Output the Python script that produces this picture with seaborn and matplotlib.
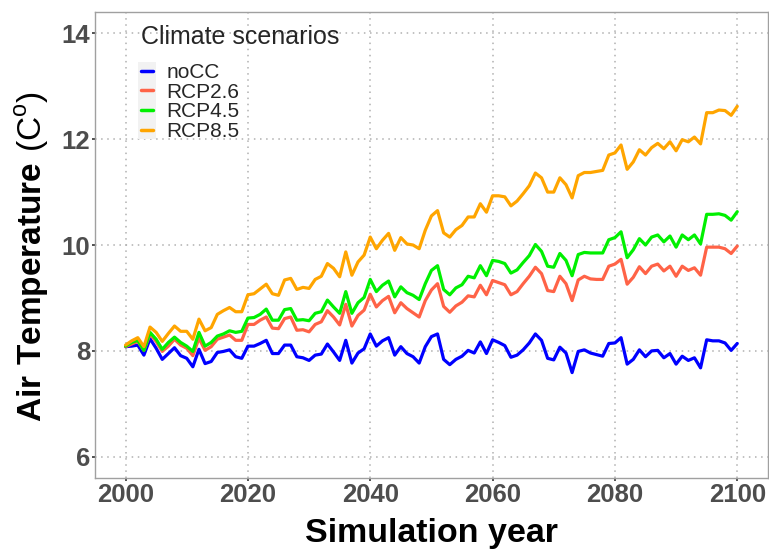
import numpy as np
import pandas as pd
import matplotlib
matplotlib.use("Agg")
import matplotlib.pyplot as plt
from matplotlib.patches import Rectangle
import seaborn as sns

years = list(range(2000, 2101))

nocc = [
    8.08, 8.09, 8.11, 7.92, 8.23, 8.05, 7.84, 7.95, 8.06, 7.91,
    7.86, 7.70, 8.03, 7.76, 7.80, 7.97, 7.99, 8.02, 7.89, 7.86,
    8.09, 8.09, 8.14, 8.20, 7.95, 7.95, 8.11, 8.11, 7.89, 7.87,
    7.82, 7.92, 7.94, 8.13, 7.98, 7.82, 8.20, 7.77, 7.96, 8.04,
    8.32, 8.09, 8.19, 8.25, 7.92, 8.08, 7.95, 7.89, 7.77, 8.08,
    8.27, 8.32, 7.84, 7.74, 7.84, 7.90, 8.01, 7.96, 8.17, 7.95,
    8.21, 8.16, 8.10, 7.88, 7.92, 8.02, 8.15, 8.32, 8.20, 7.86,
    7.83, 8.07, 7.96, 7.59, 7.99, 8.02, 7.96, 7.93, 7.90, 8.14,
    8.15, 8.25, 7.75, 7.84, 8.02, 7.89, 8.00, 8.01, 7.87, 7.95,
    7.75, 7.90, 7.82, 7.87, 7.68, 8.21, 8.19, 8.19, 8.15, 8.01,
    8.14,
]

rcp26 = [
    8.08, 8.13, 8.18, 8.01, 8.32, 8.18, 7.99, 8.09, 8.22, 8.11,
    8.05, 7.91, 8.24, 8.01, 8.08, 8.22, 8.26, 8.30, 8.20, 8.20,
    8.50, 8.50, 8.58, 8.64, 8.43, 8.42, 8.61, 8.64, 8.39, 8.40,
    8.36, 8.50, 8.55, 8.76, 8.64, 8.49, 8.88, 8.47, 8.67, 8.77,
    9.07, 8.83, 8.95, 9.03, 8.72, 8.91, 8.80, 8.72, 8.64, 8.95,
    9.15, 9.27, 8.84, 8.73, 8.85, 8.92, 9.04, 9.02, 9.24, 9.06,
    9.33, 9.29, 9.25, 9.06, 9.12, 9.27, 9.41, 9.58, 9.46, 9.14,
    9.12, 9.41, 9.27, 8.95, 9.34, 9.41, 9.36, 9.35, 9.35, 9.60,
    9.64, 9.73, 9.26, 9.39, 9.59, 9.46, 9.60, 9.64, 9.51, 9.60,
    9.41, 9.60, 9.52, 9.57, 9.43, 9.96, 9.96, 9.96, 9.93, 9.84,
    9.98,
]

rcp45 = [
    8.09, 8.16, 8.20, 8.01, 8.35, 8.22, 8.03, 8.16, 8.26, 8.16,
    8.09, 7.99, 8.35, 8.09, 8.16, 8.28, 8.32, 8.38, 8.35, 8.37,
    8.62, 8.63, 8.69, 8.79, 8.58, 8.58, 8.78, 8.80, 8.58, 8.59,
    8.57, 8.71, 8.74, 8.96, 8.83, 8.71, 9.12, 8.71, 8.91, 9.01,
    9.35, 9.12, 9.24, 9.32, 9.02, 9.21, 9.10, 9.05, 8.97, 9.27,
    9.52, 9.61, 9.16, 9.06, 9.19, 9.25, 9.41, 9.38, 9.61, 9.42,
    9.71, 9.69, 9.65, 9.47, 9.53, 9.67, 9.80, 10.01, 9.88, 9.60,
    9.58, 9.84, 9.71, 9.42, 9.82, 9.86, 9.85, 9.85, 9.85, 10.10,
    10.14, 10.25, 9.76, 9.91, 10.12, 10.00, 10.15, 10.19, 10.06, 10.17,
    9.96, 10.19, 10.10, 10.19, 10.02, 10.58, 10.58, 10.59, 10.56, 10.47,
    10.63,
]

rcp85 = [
    8.11, 8.19, 8.25, 8.08, 8.45, 8.35, 8.18, 8.33, 8.47, 8.37,
    8.37, 8.22, 8.60, 8.38, 8.44, 8.69, 8.76, 8.82, 8.74, 8.74,
    9.06, 9.08, 9.17, 9.26, 9.08, 9.05, 9.34, 9.37, 9.16, 9.20,
    9.18, 9.35, 9.41, 9.65, 9.56, 9.40, 9.87, 9.43, 9.68, 9.81,
    10.15, 9.93, 10.09, 10.22, 9.90, 10.14, 10.02, 10.00, 9.93, 10.28,
    10.55, 10.65, 10.23, 10.15, 10.29, 10.37, 10.53, 10.53, 10.78, 10.62,
    10.93, 10.93, 10.91, 10.74, 10.83, 10.97, 11.12, 11.36, 11.27, 11.00,
    11.00, 11.27, 11.14, 10.89, 11.31, 11.37, 11.37, 11.39, 11.41, 11.70,
    11.74, 11.89, 11.43, 11.57, 11.80, 11.70, 11.84, 11.92, 11.82, 11.95,
    11.78, 11.99, 11.95, 12.04, 11.91, 12.50, 12.50, 12.55, 12.54, 12.45,
    12.62,
]

scenarios = ["noCC", "RCP2.6", "RCP4.5", "RCP8.5"]
colors = ["#0000FF", "#FF6347", "#00F000", "#FFA500"]
x_ticks = [2000, 2020, 2040, 2060, 2080, 2100]
y_ticks = [6, 8, 10, 12, 14]

df = pd.DataFrame({
    "year": years * 4,
    "temp": nocc + rcp26 + rcp45 + rcp85,
    "scenario": np.repeat(scenarios, len(years)),
})

sns.set_theme(style="white")
plt.rcParams["font.family"] = ["Liberation Sans", "DejaVu Sans"]
plt.rcParams["mathtext.fontset"] = "custom"
plt.rcParams["mathtext.rm"] = "Liberation Sans"
plt.rcParams["mathtext.bf"] = "Liberation Sans:bold"

fig = plt.figure(figsize=(7.69, 5.5), dpi=100)
ax = fig.add_axes([0.1235, 0.131, 0.875, 0.847])

sns.lineplot(data=df, x="year", y="temp", hue="scenario",
             hue_order=scenarios, palette=dict(zip(scenarios, colors)),
             linewidth=2.3, ax=ax, legend=True)

ax.set_xlim(1995, 2105)
ax.set_ylim(5.6, 14.4)
ax.set_xticks(x_ticks)
ax.set_yticks(y_ticks)
ax.grid(True, linestyle=(0, (1, 3)), color="#B0B0B0", linewidth=1.1)
ax.set_axisbelow(True)
for s in ax.spines.values():
    s.set_color("#A0A0A0")
    s.set_linewidth(1.0)

ax.tick_params(axis="both", which="major", length=2.5, width=1.2,
               color="#333333", direction="out", pad=1,
               labelsize=18.5, labelcolor="#4D4D4D", bottom=True, left=True)
for lab in ax.get_xticklabels() + ax.get_yticklabels():
    lab.set_fontweight("bold")

ax.set_xlabel("Simulation year", fontsize=24.5, fontweight="bold",
              color="black", labelpad=8)
ax.set_ylabel(r"$\mathbf{Air\ Temperature}\ (\mathrm{C}^{\mathrm{o}})$",
              fontsize=24, color="black")
ax.yaxis.set_label_coords(-0.066, 0.475)

leg = ax.legend(title="Climate scenarios", loc="upper left",
                bbox_to_anchor=(0.041, 1.012), frameon=False,
                fontsize=15, title_fontsize=18, handlelength=0.55,
                handletextpad=0.65, labelspacing=0.03, alignment="left")
leg.set_zorder(6)
leg._legend_box.sep = 10
for line in leg.get_lines():
    line.set_linewidth(2.5)

# faint grey strip behind the legend keys
fig.canvas.draw()
renderer = fig.canvas.get_renderer()
exts = [ln.get_window_extent(renderer) for ln in leg.get_lines()]
kx0 = min(e.x0 for e in exts) - 3
kx1 = max(e.x1 for e in exts) + 3
ky0 = min(e.y0 for e in exts) - 9
ky1 = max(e.y1 for e in exts) + 9
ax.add_patch(Rectangle((kx0, ky0), kx1 - kx0, ky1 - ky0, transform=None,
                       facecolor="#F2F2F2", edgecolor="none", zorder=5))

fig.savefig("out.png", dpi=100)
